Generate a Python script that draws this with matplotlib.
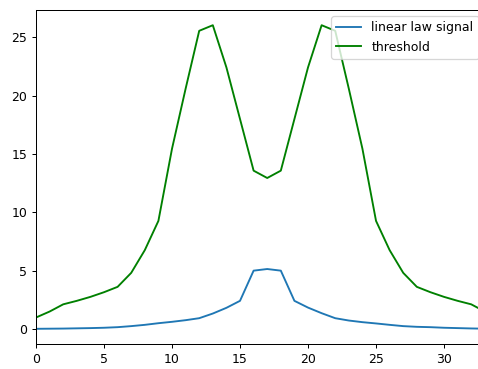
import matplotlib
matplotlib.use('Agg')
import matplotlib.pyplot as plt
import numpy as np

## 데이터
x = np.arange(35)
signal = [0.0, 0.01, 0.02, 0.04, 0.06, 0.09, 0.14, 0.23, 0.34, 0.48, 0.6, 0.74, 0.91,
          1.31, 1.8, 2.4, 4.99, 5.13, 4.99, 2.4, 1.82, 1.34, 0.91, 0.71, 0.57, 0.46,
          0.34, 0.23, 0.17, 0.14, 0.09, 0.06, 0.03, 0.01, 0.0]
threshold = [0.97, 1.48, 2.1, 2.4, 2.74, 3.14, 3.6, 4.8, 6.75, 9.26, 15.45, 20.6, 25.57,
             26.05, 22.43, 18.0, 13.57, 12.94, 13.57, 18.0, 22.43, 26.05, 25.57, 20.6,
             15.45, 9.26, 6.75, 4.8, 3.6, 3.14, 2.74, 2.4, 2.1, 1.48, 0.97]

dpi = 90.37
fig = plt.figure(figsize=(478 / dpi, 369 / dpi), dpi=dpi)
ax = fig.add_axes([0.0753, 0.0678, 0.939, 0.905])

ax.plot(x, signal, label='linear law signal')
ax.plot(x, threshold, color='green', label='threshold')
ax.set_xlim(0, 33)
ax.legend(loc='upper right')

plt.savefig('out.png', dpi=dpi)
